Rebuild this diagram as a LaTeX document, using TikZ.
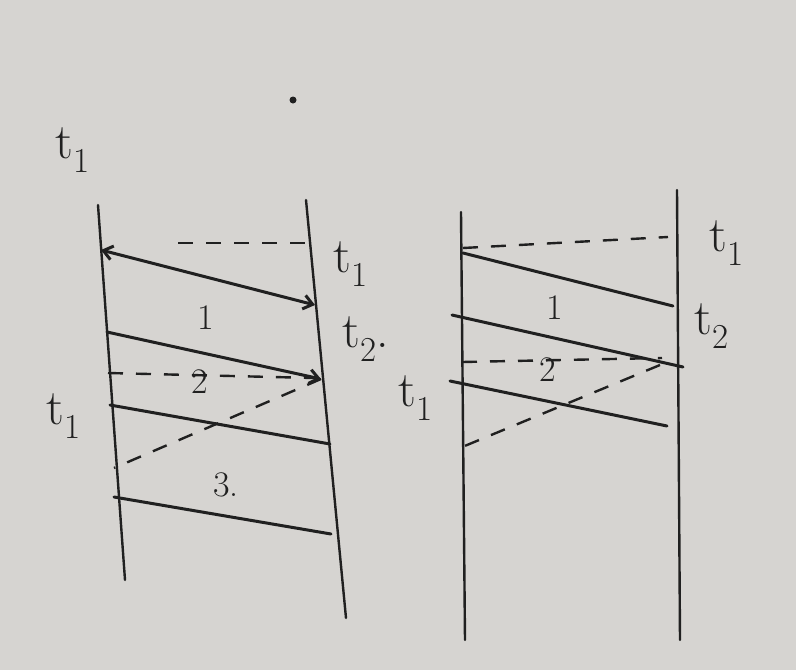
\documentclass[tikz,border=0pt]{standalone}
\usepackage{tikz}
\usetikzlibrary{arrows.meta}
\definecolor{paper}{RGB}{214,212,209}
\definecolor{ink}{RGB}{32,32,32}
\tikzset{
  wire/.style={ink, line width=2.4pt, line cap=round},
  rung/.style={ink, line width=3pt, line cap=round},
  dashrung/.style={ink, line width=2.4pt, dash pattern=on 15pt off 13pt},
  tlabel/.style={ink, font=\fontsize{50}{54}\selectfont, inner sep=0pt},
  seg/.style={ink, font=\fontsize{36}{40}\selectfont, inner sep=0pt},
}
\newcommand{\tsub}[1]{t\textsubscript{#1}}
\begin{document}
\begin{tikzpicture}[x=1pt,y=-1pt,>={Straight Barb[length=9pt,width=14pt]}]
      \fill[paper] (0,0) rectangle (796,670);
      \useasboundingbox (0,0) rectangle (796,670);
      \fill[ink] (293,100) circle (3.5pt);
      % left diagram
      \coordinate (la) at (98,205);  \coordinate (lz) at (125,580);
      \coordinate (ra) at (306,200); \coordinate (rz) at (346,618);
      \draw[wire] (la) -- (lz);
      \draw[wire] (ra) -- (rz);
      \coordinate (l1) at (101,250); \coordinate (r1) at (315,305);
      \coordinate (l2) at (107,332); \coordinate (r2) at (321,379);
      \coordinate (l3) at (110,405); \coordinate (r3) at (330,444);
      \coordinate (l4) at (114,497); \coordinate (r4) at (331,534);
      \coordinate (d0) at (178,243); \coordinate (e0) at (309,243);
      \coordinate (d2) at (108,373); \coordinate (e2) at (314,378);
      \coordinate (d3) at (114,468);
      \draw[dashrung] (d0) -- (e0);
      \draw[rung,<->] (l1) -- (r1);
      \draw[rung,->] (l2) -- (r2);
      \draw[dashrung] (d2) -- (e2);
      \draw[rung] (l3) -- (r3);
      \draw[dashrung] (r2) -- (d3);
      \draw[rung] (l4) -- (r4);
      \node[tlabel] (ta) at (73,150) {\tsub{1}};
      \node[tlabel] (tb) at (351,264) {\tsub{1}};
      \node[tlabel] (tc) at (366,339) {\tsub{2}.};
      \node[tlabel] (td) at (64,416) {\tsub{1}};
      \node[seg] (s1) at (206,318) {1};
      \node[seg] (s2) at (200,382) {2};
      \node[seg] (s3) at (226,485) {3.};
      % right diagram
      \coordinate (pa) at (461,212); \coordinate (pz) at (465,640);
      \coordinate (qa) at (677,190); \coordinate (qz) at (680,640);
      \draw[wire] (pa) -- (pz);
      \draw[wire] (qa) -- (qz);
      \coordinate (p1) at (463,253); \coordinate (q1) at (673,306);
      \coordinate (p2) at (452,315); \coordinate (q2) at (683,367);
      \coordinate (p3) at (450,381); \coordinate (q3) at (667,426);
      \coordinate (f0) at (463,248); \coordinate (g0) at (668,237);
      \coordinate (f2) at (462,362); \coordinate (g2) at (662,358);
      \coordinate (g3) at (660,365); \coordinate (f3) at (455,450);
      \draw[dashrung] (f0) -- (g0);
      \draw[rung] (p1) -- (q1);
      \draw[rung] (p2) -- (q2);
      \draw[dashrung] (f2) -- (g2);
      \draw[rung] (p3) -- (q3);
      \draw[dashrung] (g3) -- (f3);
      \node[tlabel] (ua) at (727,243) {\tsub{1}};
      \node[tlabel] (ub) at (712,326) {\tsub{2}};
      \node[tlabel] (uc) at (416,398) {\tsub{1}};
      \node[seg] (v1) at (555,308) {1};
      \node[seg] (v2) at (548,370) {2};
    \end{tikzpicture}
\end{document}
